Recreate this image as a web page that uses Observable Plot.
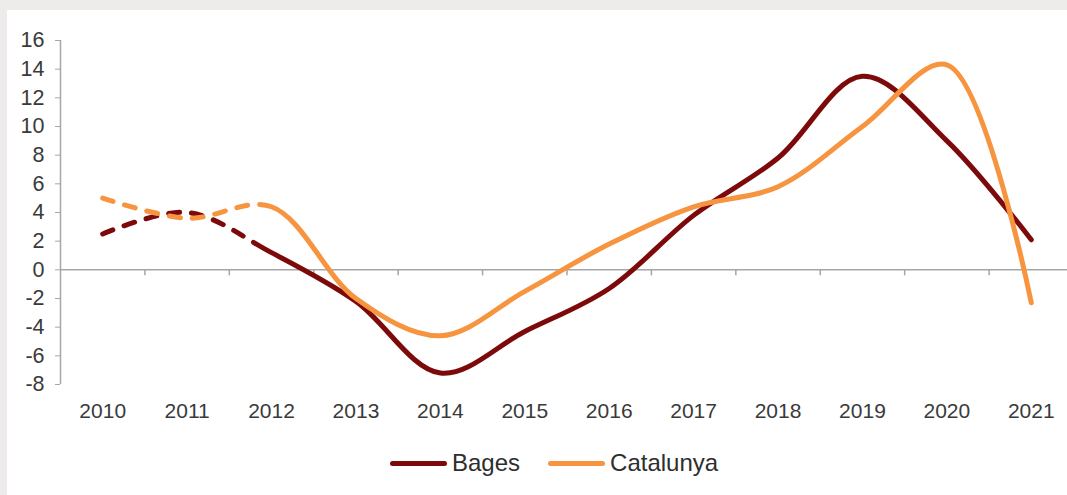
<!DOCTYPE html>
<html>
<head>
<meta charset="utf-8">
<script src="https://cdn.jsdelivr.net/npm/d3@7"></script>
<script src="https://cdn.jsdelivr.net/npm/@observablehq/plot@0.6"></script>
<style>
  html, body { margin: 0; padding: 0; overflow: hidden; background: #edecea; width: 1067px; height: 495px; }
  #panel { position: absolute; left: 7px; top: 10px; width: 1060px; height: 485px; background: #fff; overflow: hidden; }
  #chart svg { display: block; max-width: none !important; }
  #chart text { fill: #3a3a3a; }
  #legend { position: absolute; left: 383px; top: 439px; display: flex; align-items: center; font-family: "Liberation Sans", Arial, sans-serif; font-size: 24px; color: #2e2e2e; }
  .item { display: flex; align-items: center; margin-right: 28px; }
  .sw { width: 57px; height: 5px; border-radius: 3px; margin-right: 5px; }
</style>
</head>
<body>
<div id="panel">
  <div id="chart"></div>
  <div id="legend"></div>
</div>
<script>
const years = [2010, 2011, 2012, 2013, 2014, 2015, 2016, 2017, 2018, 2019, 2020, 2021];
const bages = [2.5, 4.0, 1.2, -2.2, -7.2, -4.3, -1.3, 3.8, 7.8, 13.5, 9.0, 2.1];
const catalunya = [5.0, 3.6, 4.4, -2.0, -4.6, -1.5, 1.8, 4.4, 5.8, 10.0, 14.3, -2.3];
const yTicks = [-8, -6, -4, -2, 0, 2, 4, 6, 8, 10, 12, 14, 16];
const seriesNames = ["Bages", "Catalunya"];
const seriesColors = ["#7d0a0a", "#f7943f"];
const dashedUntil = 2012;

const rows = [];
[bages, catalunya].forEach((vals, s) => {
  years.forEach((yr, i) => rows.push({series: seriesNames[s], year: yr, value: vals[i]}));
});
const bounds = years.slice(0, -1).map(y => y + 0.5);

const font = "'Liberation Sans', Arial, sans-serif";
const chart = Plot.plot({
  width: 1080,
  height: 420,
  marginLeft: 53,
  marginRight: 14,
  marginTop: 30,
  marginBottom: 46,
  style: {fontFamily: font, background: "transparent", overflow: "visible", maxWidth: "none"},
  x: {domain: [years[0] - 0.5, years[years.length - 1] + 0.5]},
  y: {domain: [yTicks[0], yTicks[yTicks.length - 1]]},
  color: {domain: seriesNames, range: seriesColors},
  marks: [
    Plot.ruleY([0], {stroke: "#a6a6a6", strokeWidth: 1.5}),
    Plot.ruleX(bounds, {y1: 0, y2: 0, insetBottom: -6, stroke: "#a6a6a6", strokeWidth: 1.5}),
    Plot.ruleX([years[0] - 0.5], {y1: yTicks[0], y2: yTicks[yTicks.length - 1], stroke: "#a6a6a6", strokeWidth: 1.5}),
    Plot.axisY({ticks: yTicks, label: null, tickSize: 5, tickPadding: 11, fontSize: 21.5, stroke: "#a6a6a6", tickFormat: d => String(d).replace("\u2212", "-")}),
    Plot.axisX({ticks: years, label: null, tickSize: 0, tickPadding: 19, fontSize: 21, tickFormat: d => String(d)}),
    Plot.line(rows, {x: "year", y: "value", z: "series", stroke: "series", strokeWidth: 5, strokeLinecap: "round", curve: "catmull-rom"})
  ]
});
document.getElementById("chart").appendChild(chart);

// Dashed style for the early (estimated) part of each series, up to dashedUntil
const xScale = chart.scale("x");
const xCut = xScale.apply(dashedUntil);
seriesColors.forEach(col => {
  chart.querySelectorAll(`path[stroke="${col}"]`).forEach(p => {
    const total = p.getTotalLength();
    let lo = 0, hi = total;
    for (let k = 0; k < 40; k++) {
      const mid = (lo + hi) / 2;
      if (p.getPointAtLength(mid).x < xCut) lo = mid; else hi = mid;
    }
    const L = lo;
    const dash = 11, gap = 12;
    const arr = [];
    let pos = 0;
    while (pos + dash + gap <= L) { arr.push(dash, gap); pos += dash + gap; }
    arr.push(total + 100, 0);
    p.setAttribute("stroke-dasharray", arr.join(" "));
  });
});

const legend = document.getElementById("legend");
seriesNames.forEach((name, i) => {
  const item = document.createElement("div");
  item.className = "item";
  const sw = document.createElement("div");
  sw.className = "sw";
  sw.style.background = seriesColors[i];
  const label = document.createElement("span");
  label.textContent = name;
  item.appendChild(sw);
  item.appendChild(label);
  legend.appendChild(item);
});
</script>
</body>
</html>
